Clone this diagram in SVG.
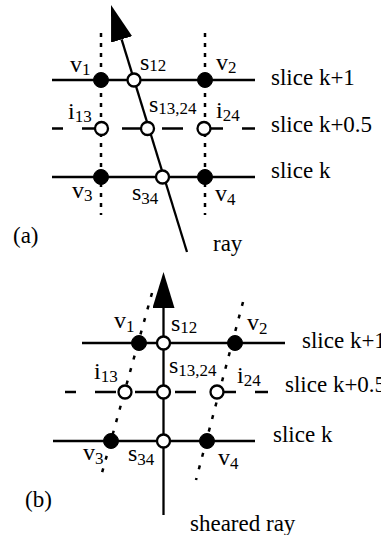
<svg xmlns="http://www.w3.org/2000/svg" width="381" height="535" viewBox="0 0 381 535">
<style>
.ln{stroke:#000;stroke-width:2.3;fill:none}
.dsh{stroke-dasharray:21 19;stroke-dashoffset:10}
.dot{stroke:#000;stroke-width:2.5;fill:none;stroke-dasharray:4 6}
.dotb{stroke:#000;stroke-width:2.5;fill:none;stroke-dasharray:4 9}
.full{fill:#000;stroke:#000;stroke-width:1}
.open{fill:#fff;stroke:#000;stroke-width:2.3}
text{font-family:"Liberation Serif","DejaVu Serif","Times New Roman",serif;font-size:23px;fill:#000}
.lbl{font-size:24px}
.sub{font-size:17px}
</style>
<defs>
<marker id="ah" markerUnits="userSpaceOnUse" markerWidth="37" markerHeight="22" refX="0" refY="11" orient="auto" viewBox="0 0 37 22"><path d="M0,0 L36,11 L0,22 z" fill="#000"/></marker>
</defs>
<g id="connectors">
<line class="dot" x1="101" y1="33" x2="101" y2="215"/>
<line class="dot" x1="205" y1="33" x2="205" y2="215"/>
<line class="ln" x1="52" y1="80" x2="255" y2="80"/>
<line class="ln dsh" x1="52" y1="128.5" x2="255" y2="128.5"/>
<line class="ln" x1="52" y1="177" x2="255" y2="177"/>
<line class="ln" x1="187" y1="252" x2="121.6" y2="39.4" marker-end="url(#ah)"/>
<line class="dotb" x1="152" y1="293" x2="100" y2="480"/>
<line class="dotb" x1="243" y1="302" x2="196" y2="480"/>
<line class="ln" x1="82" y1="343" x2="285" y2="343"/>
<line class="ln dsh" x1="65" y1="392" x2="268" y2="392"/>
<line class="ln" x1="53" y1="441" x2="255" y2="441"/>
<line class="ln" x1="163.5" y1="515" x2="163.5" y2="308" marker-end="url(#ah)"/>
</g>
<g id="a-v1"><circle class="full" cx="101" cy="80" r="7.5"/><text class="lbl" x="70" y="72">v<tspan class="sub" dy="3">1</tspan></text></g>
<g id="a-v2"><circle class="full" cx="205" cy="80" r="7.5"/><text class="lbl" x="216" y="70">v<tspan class="sub" dy="3">2</tspan></text></g>
<g id="a-v3"><circle class="full" cx="101" cy="177" r="7.5"/><text class="lbl" x="72" y="198">v<tspan class="sub" dy="3">3</tspan></text></g>
<g id="a-v4"><circle class="full" cx="205" cy="177" r="7.5"/><text class="lbl" x="215" y="201">v<tspan class="sub" dy="4">4</tspan></text></g>
<g id="a-s12"><circle class="open" cx="134" cy="80" r="6.5"/><text class="lbl" x="140" y="70">s<tspan class="sub" dy="1">12</tspan></text></g>
<g id="a-i13"><circle class="open" cx="101.5" cy="128.5" r="6.5"/><text class="lbl" x="68" y="119">i<tspan class="sub" dy="3">13</tspan></text></g>
<g id="a-s1324"><circle class="open" cx="147.5" cy="128.5" r="6.5"/><text class="lbl" x="149" y="112">s<tspan class="sub" dy="2">13,24</tspan></text></g>
<g id="a-i24"><circle class="open" cx="204" cy="128.5" r="6.5"/><text class="lbl" x="216" y="118">i<tspan class="sub" dy="3">24</tspan></text></g>
<g id="a-s34"><circle class="open" cx="162.5" cy="177" r="6.5"/><text class="lbl" x="132" y="200">s<tspan class="sub" dy="4">34</tspan></text></g>
<g id="a-labels">
<text x="271" y="85">slice k+1</text>
<text x="271" y="132">slice k+0.5</text>
<text x="271" y="178">slice k</text>
<text x="13" y="243">(a)</text>
<text x="213" y="251">ray</text>
</g>
<g id="b-v1"><circle class="full" cx="139" cy="343" r="7.5"/><text class="lbl" x="114" y="328">v<tspan class="sub" dy="4">1</tspan></text></g>
<g id="b-v2"><circle class="full" cx="235" cy="343" r="7.5"/><text class="lbl" x="247" y="330">v<tspan class="sub" dy="4">2</tspan></text></g>
<g id="b-v3"><circle class="full" cx="111" cy="441" r="7.5"/><text class="lbl" x="83" y="460">v<tspan class="sub" dy="4">3</tspan></text></g>
<g id="b-v4"><circle class="full" cx="207" cy="441" r="7.5"/><text class="lbl" x="218" y="465">v<tspan class="sub" dy="4">4</tspan></text></g>
<g id="b-s12"><circle class="open" cx="163.5" cy="343" r="6.5"/><text class="lbl" x="171" y="331">s<tspan class="sub" dy="2">12</tspan></text></g>
<g id="b-i13"><circle class="open" cx="125" cy="392" r="6.5"/><text class="lbl" x="94" y="379">i<tspan class="sub" dy="3">13</tspan></text></g>
<g id="b-s1324"><circle class="open" cx="163.5" cy="392" r="6.5"/><text class="lbl" x="169" y="373">s<tspan class="sub" dy="3">13,24</tspan></text></g>
<g id="b-i24"><circle class="open" cx="217" cy="392" r="6.5"/><text class="lbl" x="237" y="383">i<tspan class="sub" dy="3">24</tspan></text></g>
<g id="b-s34"><circle class="open" cx="163.5" cy="441" r="6.5"/><text class="lbl" x="128" y="461">s<tspan class="sub" dy="4">34</tspan></text></g>
<g id="b-labels">
<text x="302" y="348">slice k+1</text>
<text x="285" y="392">slice k+0.5</text>
<text x="273" y="442">slice k</text>
<text x="25" y="507">(b)</text>
<text x="190" y="531">sheared ray</text>
</g>
</svg>
